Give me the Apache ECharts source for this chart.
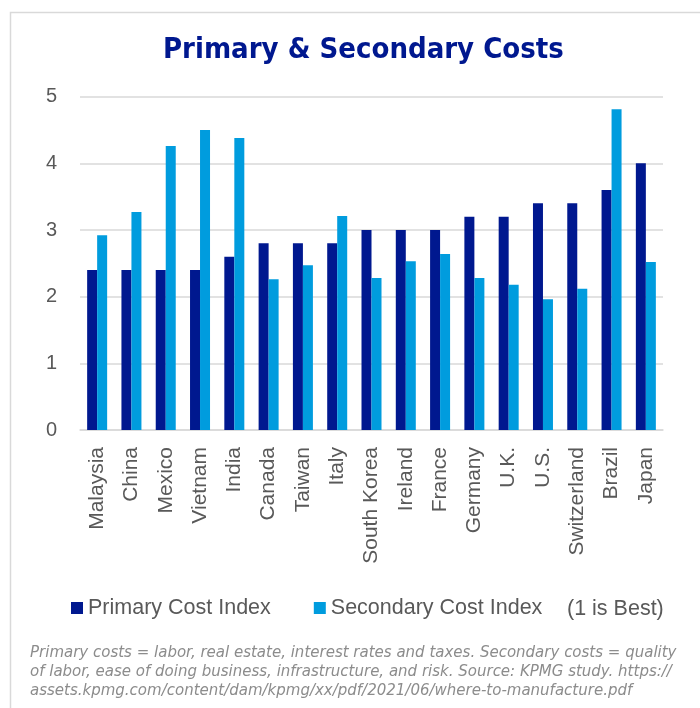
<!DOCTYPE html>
<html>
<head>
<meta charset="utf-8">
<title>Primary & Secondary Costs</title>
<script src="https://cdn.jsdelivr.net/npm/echarts@6/dist/echarts.min.js"></script>
<style>
  html, body { margin: 0; padding: 0; background: #ffffff; }
  #chart { width: 700px; height: 708px; }
</style>
</head>
<body>
<div id="chart"></div>
<script>
// Country categories, ordered by primary cost index
const countries = ['Malaysia', 'China', 'Mexico', 'Vietnam', 'India', 'Canada', 'Taiwan', 'Italy',
  'South Korea', 'Ireland', 'France', 'Germany', 'U.K.', 'U.S.', 'Switzerland', 'Brazil', 'Japan'];

// Primary cost index (labor, real estate, interest rates, taxes)
const primaryCost = [2.4, 2.4, 2.4, 2.4, 2.6, 2.8, 2.8, 2.8, 3.0, 3.0, 3.0, 3.2, 3.2, 3.4, 3.4, 3.6, 4.0];

// Secondary cost index (labor quality, ease of business, infrastructure, risk)
const secondaryCost = [2.92, 3.27, 4.26, 4.50, 4.38, 2.26, 2.47, 3.21, 2.28, 2.53, 2.64, 2.28, 2.18, 1.96, 2.12, 4.81, 2.52];

// Value axis ticks
const yTicks = [0, 1, 2, 3, 4, 5];

const footnoteLines = [
  'Primary costs = labor, real estate, interest rates and taxes. Secondary costs = quality',
  'of labor, ease of doing business, infrastructure, and risk. Source: KPMG study. https://',
  'assets.kpmg.com/content/dam/kpmg/xx/pdf/2021/06/where-to-manufacture.pdf'
];

const NAVY = '#00188F';
const SKY = '#009CDE';
const GREY_TEXT = '#595959';
const GRID_GREY = '#d9d9d9';
const LABEL_FONT = '"Liberation Sans", Arial, sans-serif';

const chart = echarts.init(document.getElementById('chart'), null, { renderer: 'canvas' });

const footnoteGraphics = footnoteLines.map((line, i) => ({
  type: 'text',
  left: 30,
  top: 646 + i * 19,
  style: {
    text: line,
    fill: '#8c8c8c',
    font: 'italic 15px "DejaVu Sans", sans-serif'
  }
}));

chart.setOption({
  animation: false,
  backgroundColor: '#ffffff',
  title: {
    text: 'Primary & Secondary Costs',
    left: 163,
    top: 36,
    padding: 0,
    textStyle: {
      color: NAVY,
      fontFamily: '"DejaVu Sans Condensed", "DejaVu Sans", sans-serif',
      fontWeight: 'bold',
      fontSize: 29
    }
  },
  grid: { left: 80, right: 37, top: 96.7, bottom: 278, containLabel: false },
  legend: {
    left: 71,
    top: 597,
    padding: 0,
    itemWidth: 12,
    itemHeight: 12,
    itemGap: 43,
    icon: 'rect',
    textStyle: { color: GREY_TEXT, fontSize: 21.5, fontFamily: LABEL_FONT },
    data: ['Primary Cost Index', 'Secondary Cost Index']
  },
  xAxis: {
    type: 'category',
    data: countries,
    axisLine: { lineStyle: { color: GRID_GREY, width: 1.5 } },
    axisTick: { show: false },
    axisLabel: {
      rotate: 90,
      interval: 0,
      margin: 17,
      color: GREY_TEXT,
      fontSize: 21,
      fontFamily: LABEL_FONT
    }
  },
  yAxis: {
    type: 'value',
    min: yTicks[0],
    max: yTicks[yTicks.length - 1],
    interval: 1,
    axisLine: { show: false },
    axisTick: { show: false },
    axisLabel: {
      margin: 23,
      color: GREY_TEXT,
      fontSize: 20,
      fontFamily: LABEL_FONT
    },
    splitLine: { lineStyle: { color: GRID_GREY, width: 1.5 } }
  },
  series: [
    {
      name: 'Primary Cost Index',
      type: 'bar',
      data: primaryCost,
      barWidth: 10,
      barGap: '0%',
      itemStyle: { color: NAVY }
    },
    {
      name: 'Secondary Cost Index',
      type: 'bar',
      data: secondaryCost,
      barWidth: 10,
      barGap: '0%',
      itemStyle: { color: SKY }
    }
  ],
  graphic: [
    {
      type: 'rect',
      left: 8,
      top: 10,
      silent: true,
      shape: { width: 720, height: 720 },
      style: { fill: 'none', stroke: GRID_GREY, lineWidth: 1.5 }
    },
    {
      type: 'text',
      left: 567,
      top: 598,
      style: {
        text: '(1 is Best)',
        fill: GREY_TEXT,
        font: '21.5px ' + LABEL_FONT
      }
    }
  ].concat(footnoteGraphics)
});
</script>
</body>
</html>
